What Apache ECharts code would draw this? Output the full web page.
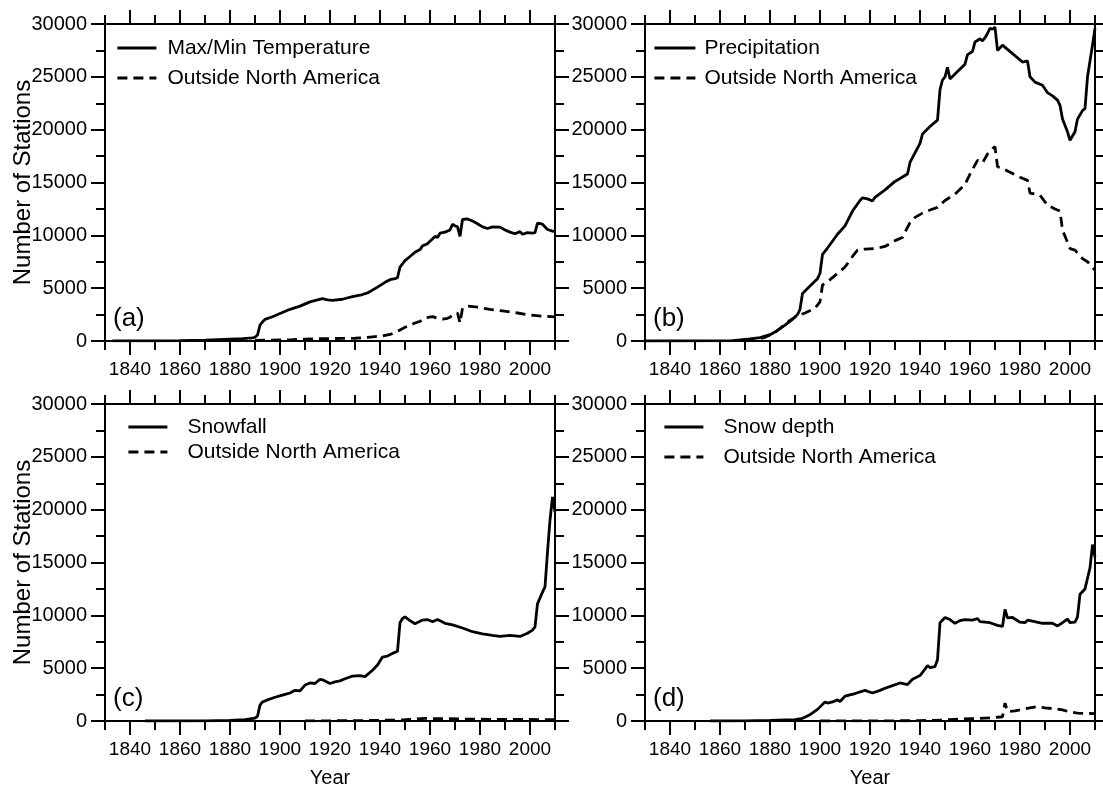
<!DOCTYPE html>
<html><head><meta charset="utf-8">
<script src="https://cdn.jsdelivr.net/npm/echarts@6/dist/echarts.min.js"></script>
<style>html,body{margin:0;padding:0;background:#fff}#c{width:1103px;height:789px}</style>
</head><body><div id="c"></div>
<script>
// ---- data ----
const aYears = [1833,1850,1860,1870,1875,1880,1885,1889,1890,1891,1892,1893,1894,1897,1900,1904,1908,1912,1915,1917,1919,1921,1925,1929,1933,1935,1939,1942,1944,1946,1947,1948,1950,1952,1954,1956,1957,1959,1960,1962,1963,1964,1966,1968,1969,1970,1971,1972,1973,1975,1977,1979,1981,1983,1985,1988,1990,1992,1994,1996,1997,1999,2001,2002,2003,2005,2007,2009,2010];
const aTotal = [10,20,40,80,130,180,230,300,350,570,1500,1800,2050,2300,2600,3000,3300,3700,3900,4000,3900,3850,3950,4200,4400,4550,5100,5550,5800,5900,6000,7000,7600,8000,8400,8650,9000,9200,9450,9900,9800,10200,10300,10500,11050,10900,10800,9900,11500,11550,11350,11100,10800,10650,10800,10780,10500,10300,10150,10350,10100,10250,10200,10250,11150,11050,10550,10400,10350];
const aOutYears = [1890,1895,1900,1905,1910,1915,1920,1925,1930,1935,1938,1941,1944,1946,1948,1950,1952,1954,1956,1958,1961,1963,1965,1967,1968,1970,1971,1972,1973,1975,1979,1984,1989,1995,2000,2005,2010];
const aOut = [50,80,100,120,180,220,230,250,260,350,420,470,620,800,1050,1300,1500,1700,1850,2200,2300,2150,2080,2150,2250,2600,2650,1700,3100,3300,3200,3000,2850,2650,2450,2350,2280];

const bYears = [1830,1850,1865,1868,1872,1876,1880,1883,1886,1889,1891,1892,1893,1896,1899,1900,1901,1903,1907,1910,1913,1916,1917,1919,1921,1922,1926,1930,1935,1936,1938,1940,1941,1944,1947,1948,1949,1950,1951,1952,1955,1958,1959,1961,1962,1964,1965,1966,1967,1968,1969,1970,1971,1973,1977,1981,1983,1984,1986,1989,1991,1993,1995,1996,1997,1999,2000,2002,2003,2005,2006,2007,2009,2010];
const bTotal = [0,10,30,100,200,330,600,1000,1500,2050,2500,3000,4500,5200,5900,6400,8200,8800,10100,10900,12300,13300,13550,13450,13250,13600,14300,15100,15800,16900,17800,18700,19600,20300,20900,23800,24700,25000,25900,24800,25500,26200,27100,27400,28300,28600,28400,28700,29100,29600,29500,29700,27500,28000,27200,26400,26500,25000,24500,24200,23500,23200,22800,22300,21000,19800,19000,19800,21000,21800,22000,25000,28000,29600];
const bOutYears = [1870,1874,1878,1882,1885,1888,1891,1894,1898,1900,1901,1903,1907,1910,1913,1915,1918,1922,1926,1930,1933,1934,1936,1938,1941,1944,1947,1950,1954,1958,1960,1963,1965,1967,1969,1970,1971,1975,1980,1983,1984,1988,1991,1994,1996,1997,2000,2002,2005,2007,2010];
const bOut = [0,100,350,800,1400,1950,2400,2650,3100,3700,5300,5600,6400,7000,8000,8600,8700,8750,8950,9500,9800,10300,11200,11700,12100,12400,12650,13300,13900,14800,15800,17100,16850,17700,18200,18400,16500,16100,15500,15200,14000,13800,12850,12500,12300,10500,8750,8600,7800,7500,6700];

const cYears = [1846,1870,1880,1886,1890,1891,1892,1893,1895,1898,1901,1904,1906,1908,1910,1912,1914,1916,1917,1920,1922,1924,1926,1929,1932,1934,1937,1939,1941,1943,1945,1947,1948,1949,1950,1952,1954,1957,1959,1961,1963,1966,1969,1973,1977,1981,1985,1988,1992,1996,1999,2001,2002,2003,2005,2006,2007,2008,2009,2010];
const cTotal = [0,10,50,130,280,450,1500,1800,2000,2250,2450,2650,2900,2850,3400,3600,3550,3950,3900,3550,3700,3800,4000,4250,4300,4200,4800,5300,6050,6150,6400,6600,9300,9700,9850,9500,9200,9550,9600,9400,9600,9250,9100,8800,8450,8250,8100,8000,8100,8000,8300,8600,8900,11100,12200,12700,16000,19000,21200,19800];
const cOutYears = [1910,1930,1945,1950,1955,1958,1962,1966,1975,1990,2000,2010];
const cOut = [10,30,80,120,200,250,230,220,180,150,140,130];

const dYears = [1856,1870,1880,1890,1893,1896,1899,1902,1903,1905,1907,1908,1910,1914,1918,1921,1924,1926,1929,1932,1935,1937,1940,1942,1943,1944,1946,1947,1948,1950,1952,1954,1956,1958,1961,1963,1964,1968,1971,1973,1974,1975,1977,1980,1982,1983,1985,1989,1993,1995,1997,1999,2000,2002,2003,2004,2006,2008,2009,2010];
const dTotal = [0,20,60,120,250,600,1100,1800,1700,1800,2000,1850,2350,2600,2900,2650,2900,3100,3350,3600,3450,3950,4300,4900,5250,5050,5150,5800,9300,9800,9600,9250,9500,9600,9550,9700,9400,9300,9050,8950,10550,9750,9800,9350,9300,9550,9450,9250,9250,9000,9300,9650,9300,9350,9850,12000,12500,14500,16700,15500];
const dOutYears = [1900,1920,1940,1950,1954,1960,1964,1968,1972,1973,1974,1975,1978,1980,1984,1987,1990,1994,1997,2000,2003,2006,2010];
const dOut = [0,10,30,100,160,220,250,300,380,400,1700,900,950,1050,1250,1350,1250,1150,1050,850,750,720,700];

const seriesNames = ['Max/Min Temperature','Precipitation','Snowfall','Snow depth'];
const outName = 'Outside North America';
const panelLabels = ['(a)','(b)','(c)','(d)'];
const yTickValues = [0,5000,10000,15000,20000,25000,30000];
const xTickLabels = [1840,1860,1880,1900,1920,1940,1960,1980,2000];

// ---- layout ----
const FONT = 'Liberation Sans, Arial, sans-serif';
const black = '#000';
const panels = [
  {left:105, top:24,  width:450, height:317, years:aYears, total:aTotal, oy:aOutYears, out:aOut,
   leg:{left:116, top:37.5, gap:9, pad:11, w:39}},
  {left:645, top:24,  width:450, height:317, years:bYears, total:bTotal, oy:bOutYears, out:bOut,
   leg:{left:653, top:37.5, gap:9, pad:9, w:41}},
  {left:105, top:404, width:450, height:317, years:cYears, total:cTotal, oy:cOutYears, out:cOut,
   leg:{left:127, top:416.5, gap:4, pad:20, w:39}},
  {left:645, top:404, width:450, height:317, years:dYears, total:dTotal, oy:dOutYears, out:dOut,
   leg:{left:663, top:416.5, gap:9, pad:20, w:39}}
];
const xMin = 1830, xMax = 2010;

const zip = (xs, ys) => xs.map((x, i) => [x, ys[i]]);

const grid = [], xAxis = [], yAxis = [], series = [], legend = [], graphic = [];
const lineW = 2;
const dataW = 2.8;

panels.forEach((p, i) => {
  const pxPerYr = p.width / (xMax - xMin);
  grid.push({left:p.left, top:p.top, width:p.width, height:p.height, containLabel:false});
  grid.push({left:p.left + (xTickLabels[0] - xMin) * pxPerYr, top:p.top,
             width:(xTickLabels[xTickLabels.length-1] - xTickLabels[0]) * pxPerYr, height:p.height, containLabel:false});
  const g = 2*i, gi = 2*i+1;
  const mainX = (pos) => ({
    type:'value', gridIndex:g, position:pos, min:xMin, max:xMax, interval:10,
    axisLine:{show:true, onZero:false, lineStyle:{color:black, width:lineW}},
    axisTick:{show:true, length:9, lineStyle:{color:black, width:lineW}},
    axisLabel:{show:false}, splitLine:{show:false}
  });
  xAxis.push(mainX('bottom'));
  xAxis.push(mainX('top'));
  const bottomLab = {
    type:'value', gridIndex:gi, position:'bottom', min:xTickLabels[0], max:xTickLabels[xTickLabels.length-1], interval:20,
    axisLine:{show:false, onZero:false},
    axisTick:{show:true, length:14, lineStyle:{color:black, width:lineW}},
    axisLabel:{show:true, color:black, fontSize:19, fontFamily:FONT, margin:19, formatter:v => String(v)},
    splitLine:{show:false}
  };
  if (i >= 2) {
    bottomLab.name = 'Year';
    bottomLab.nameLocation = 'middle';
    bottomLab.nameGap = 47;
    bottomLab.nameTextStyle = {color:black, fontSize:20, fontFamily:FONT};
  }
  xAxis.push(bottomLab);
  xAxis.push({
    type:'value', gridIndex:gi, position:'top', min:xTickLabels[0], max:xTickLabels[xTickLabels.length-1], interval:20,
    axisLine:{show:false, onZero:false},
    axisTick:{show:true, length:14, lineStyle:{color:black, width:lineW}},
    axisLabel:{show:false}, splitLine:{show:false}
  });
  const yA = (pos, showLab) => ({
    type:'value', gridIndex:g, position:pos, min:yTickValues[0], max:yTickValues[yTickValues.length-1], interval:5000,
    axisLine:{show:true, onZero:false, lineStyle:{color:black, width:lineW}},
    axisTick:{show:true, length:14, lineStyle:{color:black, width:lineW}},
    minorTick:{show:true, splitNumber:2, length:9, lineStyle:{color:black, width:lineW}},
    axisLabel:{show:showLab, color:black, fontSize:20, fontFamily:FONT, margin:18, formatter:v => String(v)},
    splitLine:{show:false}, minorSplitLine:{show:false}
  });
  yAxis.push(yA('left', true));
  yAxis.push(yA('right', false));
  yAxis.push({type:'value', gridIndex:gi, min:0, max:1, show:false});

  const common = {type:'line', xAxisIndex:4*i, yAxisIndex:3*i, symbol:'none', showSymbol:false,
                  itemStyle:{color:black}, animation:false, silent:true};
  series.push(Object.assign({}, common, {name:seriesNames[i], data:zip(p.years, p.total),
                  lineStyle:{color:black, width:dataW, type:'solid'}}));
  series.push(Object.assign({}, common, {name:outName, data:zip(p.oy, p.out),
                  lineStyle:{color:black, width:dataW, type:[10,6]}}));

  legend.push({
    data:[seriesNames[i], outName], orient:'vertical', left:p.leg.left, top:p.leg.top, padding:0,
    itemWidth:p.leg.w, itemHeight:14, itemGap:p.leg.gap, selectedMode:false,
    itemStyle:{opacity:0, borderWidth:0},
    lineStyle:{width:dataW},
    textStyle:{color:black, fontSize:21, fontFamily:FONT, padding:[0,0,0,p.leg.pad-5]}
  });

  graphic.push({type:'text', x:p.left + 8, y:p.top + 295,
    style:{text:panelLabels[i], font:'26px ' + FONT, fill:black, verticalAlign:'middle', align:'left'}});
  if (i % 2 === 0) {
    graphic.push({type:'text', x:23, y:p.top + p.height/2, rotation:Math.PI/2,
      style:{text:'Number of Stations', font:'24px ' + FONT, fill:black, align:'center', verticalAlign:'middle'}});
  }
});

const chart = echarts.init(document.getElementById('c'), null, {renderer:'canvas'});
chart.setOption({
  backgroundColor:'#fff', animation:false,
  grid, xAxis, yAxis, series, legend, graphic
});
</script>
</body></html>
